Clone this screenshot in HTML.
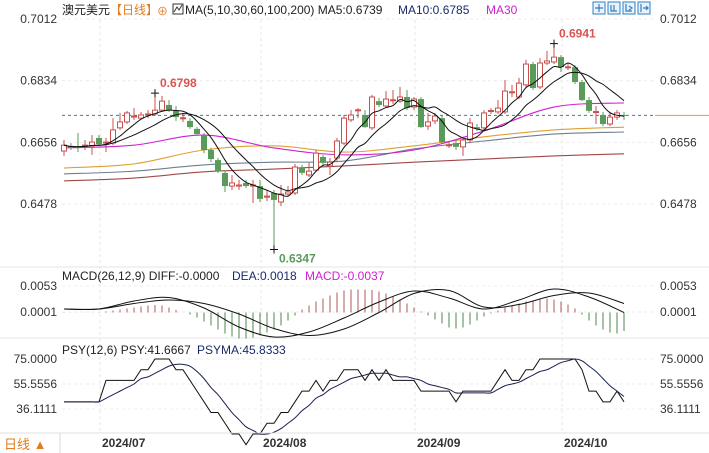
<!DOCTYPE html>
<html><head><meta charset="utf-8">
<style>
html,body{margin:0;padding:0;background:#fff;}
body{width:709px;height:453px;overflow:hidden;position:relative;font-family:"Liberation Sans","Noto Sans CJK SC",sans-serif;}
svg{position:absolute;left:0;top:0;}
</style></head>
<body>
<svg id="chart" width="709" height="453" viewBox="0 0 709 453" xmlns="http://www.w3.org/2000/svg" font-family="Liberation Sans, Noto Sans CJK SC, sans-serif">
  <g font-size="12">
    <text x="62" y="14" fill="#222">澳元美元</text>
    <text x="110" y="14" fill="#e07b20">【日线】</text>
    <text x="157" y="15" fill="#e07b20" font-size="11">⊕</text>
    <rect x="173" y="4" width="10" height="10" fill="none" stroke="#333"/>
    <path d="M174 12 L177 7 L179 10 L182 5" stroke="#333" fill="none"/>
    <text x="185" y="14" fill="#222">MA(5,10,30,60,100,200) MA5:0.6739</text>
    <text x="398" y="14" fill="#1a2a6c">MA10:0.6785</text>
    <text x="486" y="14" fill="#d020d0">MA30</text>
  </g>
  <g stroke="#2f7fc0" fill="#eaf3fb">
    <rect x="593" y="2" width="12" height="12"/>
    <rect x="608" y="2" width="12" height="12"/>
    <rect x="623" y="2" width="12" height="12"/>
    <rect x="638" y="2" width="12" height="12"/>
    <path d="M599 4 V12 M595 8 H603 M611 5 V11 H617 M614 5 V11 M626 4 V11 H632 M629 6 L632 8 L629 10 M641 4 V12 M643 8 H648 M646 6 L648 8 L646 10" fill="none" stroke-width="1.2"/>
  </g>
  <g id="grid"></g>
  <g id="axes" font-size="12" fill="#333"></g>
  <g id="mainPlot"></g>
  <g id="macdPlot"></g>
  <g id="psyPlot"></g>
  <g font-size="12">
    <text x="62" y="280" fill="#222">MACD(26,12,9) DIFF:-0.0000</text>
    <text x="232" y="280" fill="#1a2a6c">DEA:0.0018</text>
    <text x="305" y="280" fill="#d020d0">MACD:-0.0037</text>
    <text x="62" y="354" fill="#222">PSY(12,6) PSY:41.6667</text>
    <text x="197" y="354" fill="#1a2a6c">PSYMA:45.8333</text>
  </g>
  <g>
    <line x1="0" y1="433" x2="709" y2="433" stroke="#e2e2e2"/>
    <line x1="60" y1="433" x2="60" y2="453" stroke="#d8d8d8"/>
    <text x="4" y="449" fill="#e07b20" font-size="13">日线 ▲</text>
  </g>
</svg>
<script>
// ---- data ----
const opens  = [0.6631,0.6646,0.6643,0.6646,0.6646,0.6669,0.6654,0.6654,0.6698,0.6715,0.6729,0.6726,0.6735,0.6738,0.6749,0.6764,0.6747,0.6726,0.6718,0.6695,0.6677,0.6634,0.6605,0.6568,0.6530,0.6530,0.6539,0.6530,0.6530,0.6498,0.6510,0.6484,0.6507,0.6510,0.6582,0.6562,0.6576,0.6614,0.6588,0.6611,0.6654,0.6721,0.6749,0.6735,0.6698,0.6775,0.6761,0.6778,0.6775,0.6787,0.6758,0.6781,0.6703,0.6718,0.6726,0.6648,0.6654,0.6643,0.6663,0.6700,0.6698,0.6747,0.6744,0.6744,0.6801,0.6787,0.6822,0.6882,0.6816,0.6885,0.6888,0.6902,0.6873,0.6873,0.6830,0.6778,0.6744,0.6735,0.6709,0.6729,0.6735];
const closes = [0.6648,0.6640,0.6642,0.6648,0.6657,0.6651,0.6657,0.6692,0.6715,0.6741,0.6732,0.6735,0.6738,0.6749,0.6775,0.6749,0.6729,0.6727,0.6700,0.6680,0.6634,0.6608,0.6573,0.6530,0.6539,0.6533,0.6530,0.6533,0.6493,0.6501,0.6490,0.6507,0.6513,0.6585,0.6568,0.6573,0.6625,0.6597,0.6599,0.6660,0.6726,0.6735,0.6750,0.6700,0.6787,0.6764,0.6781,0.6779,0.6787,0.6755,0.6781,0.6700,0.6715,0.6732,0.6657,0.6649,0.6643,0.6663,0.6712,0.6695,0.6741,0.6748,0.6755,0.6804,0.6802,0.6827,0.6882,0.6813,0.6885,0.6891,0.6902,0.6873,0.6874,0.6830,0.6778,0.6747,0.6745,0.6709,0.6729,0.6741,0.6734];
const highs  = [0.6663,0.6654,0.6683,0.6663,0.6677,0.6677,0.6669,0.6726,0.6741,0.6747,0.6755,0.6744,0.6749,0.6798,0.6790,0.6778,0.6761,0.6741,0.6726,0.6700,0.6683,0.6640,0.6611,0.6576,0.6562,0.6548,0.6548,0.6548,0.6548,0.6519,0.6519,0.6533,0.6530,0.6594,0.6591,0.6597,0.6634,0.6620,0.6611,0.6669,0.6735,0.6749,0.6755,0.6749,0.6793,0.6784,0.6804,0.6807,0.6816,0.6807,0.6787,0.6787,0.6741,0.6741,0.6732,0.6660,0.6663,0.6672,0.6726,0.6709,0.6749,0.6755,0.6778,0.6836,0.6822,0.6842,0.6894,0.6888,0.6899,0.6920,0.6941,0.6908,0.6885,0.6879,0.6836,0.6787,0.6761,0.6744,0.6744,0.6749,0.6744];
const lows   = [0.6617,0.6634,0.6628,0.6634,0.6620,0.6646,0.6628,0.6648,0.6692,0.6709,0.6721,0.6721,0.6726,0.6732,0.6744,0.6744,0.6718,0.6715,0.6695,0.6675,0.6625,0.6599,0.6568,0.6513,0.6519,0.6519,0.6524,0.6481,0.6484,0.6487,0.6347,0.6472,0.6501,0.6504,0.6562,0.6556,0.6570,0.6591,0.6562,0.6599,0.6648,0.6715,0.6726,0.6698,0.6692,0.6758,0.6755,0.6767,0.6770,0.6749,0.6749,0.6698,0.6692,0.6709,0.6654,0.6640,0.6634,0.6617,0.6654,0.6689,0.6692,0.6738,0.6738,0.6738,0.6787,0.6781,0.6813,0.6807,0.6810,0.6879,0.6882,0.6859,0.6865,0.6824,0.6775,0.6741,0.6709,0.6703,0.6703,0.6721,0.6721];
// long moving averages sampled every 10 bars
const maIdx  = [0,10,20,30,40,50,60,70,80];
const ma30   = [0.6640,0.6648,0.6677,0.6640,0.6620,0.6634,0.6689,0.6758,0.6770];
const ma60   = [0.6582,0.6594,0.6634,0.6646,0.6628,0.6646,0.6672,0.6692,0.6700];
const ma100  = [0.6565,0.6573,0.6591,0.6599,0.6602,0.6637,0.6660,0.6680,0.6686];
const ma200  = [0.6545,0.6553,0.6571,0.6579,0.6588,0.6599,0.6608,0.6617,0.6623];
// MACD (units of 0.0001)
const macdIdx = [0,5,10,15,20,25,30,35,40,45,50,55,60,65,70,75,80];
const diffVals = [7,7,23,30,9,-29,-49,-39,-11,21,43,29,7,25,47,31,0];
const deaVals  = [7,7,18,25,18,-3,-32,-46,-33,0,38,44,11,16,34,39,18];
const histVals = [0.5,0.3,0.2,0.2,0.3,0.5,2,4,6,8,10,12,14,15,14,10,5,0,-4,-10,-18,-26,-34,-42,-48,-52,-52,-50,-46,-40,-34,-26,-16,-6,6,14,22,28,34,40,44,46,46,46,45,42,38,32,26,18,10,2,-6,-14,-22,-30,-32,-30,-24,-16,-8,-2,4,10,14,18,22,24,26,28,26,22,16,8,-4,-16,-26,-34,-40,-42,-37];
// PSY
const psyVals = [41.67,41.67,41.67,41.67,41.67,41.67,58.33,58.33,58.33,58.33,58.33,66.67,66.67,75,75,75,66.67,66.67,58.33,50,41.67,33.33,33.33,25,16.67,16.67,8.33,16.67,16.67,25,25,33.33,33.33,41.67,50,50,58.33,50,58.33,58.33,66.67,66.67,66.67,58.33,66.67,58.33,66.67,58.33,58.33,58.33,58.33,50,50,50,50,50,41.67,50,50,50,50,50,58.33,66.67,58.33,58.33,66.67,66.67,75,75,75,75,75,75,66.67,50,50,41.67,41.67,50,41.67];
const priceTicks = ["0.7012","0.6834","0.6656","0.6478"];
const macdTicks = ["0.0053","0.0001"];
const psyTicks = ["75.0000","55.5556","36.1111"];
const dateLabels = ["2024/07","2024/08","2024/09","2024/10"];
const dateIdx = [5,28,50,71];

// ---- scales ----
const X = i => 64 + 7*i;
const YP = p => 19 + (0.7012 - p) * 3466;
const YM = v => 312.5 - v * 0.5;
const YS = v => 359 + (75 - v) * 1.285;
const NS = "http://www.w3.org/2000/svg";
function mk(tag, attrs, parent){const e=document.createElementNS(NS,tag);for(const k in attrs)e.setAttribute(k,attrs[k]);parent.appendChild(e);return e;}
function smooth(pts){let d="M"+pts[0][0]+" "+pts[0][1];for(let i=0;i<pts.length-1;i++){const p0=pts[Math.max(0,i-1)],p1=pts[i],p2=pts[i+1],p3=pts[Math.min(pts.length-1,i+2)];d+=" C"+(p1[0]+(p2[0]-p0[0])/6)+" "+(p1[1]+(p2[1]-p0[1])/6)+" "+(p2[0]-(p3[0]-p1[0])/6)+" "+(p2[1]-(p3[1]-p1[1])/6)+" "+p2[0]+" "+p2[1];}return d;}

const grid=document.getElementById('grid'), axes=document.getElementById('axes');
const main=document.getElementById('mainPlot'), macdG=document.getElementById('macdPlot'), psyG=document.getElementById('psyPlot');

[267,338].forEach(y=>{const l=mk('line',{x1:0,y1:y,x2:709,y2:y,stroke:'#e4e4e4'},grid);

});
dateIdx.forEach(i=>{const l=mk('line',{x1:X(i)+1,y1:20,x2:X(i)+1,y2:433,stroke:'#e6e6e6','stroke-dasharray':'3,3'},grid);

});
priceTicks.forEach(t=>{const y=YP(+t);
mk('line',{x1:62,y1:y,x2:655,y2:y,stroke:'#ececec','stroke-dasharray':'3,3'},grid);
const a=mk('text',{x:57,y:y+4,'text-anchor':'end'},axes);a.textContent=t;


const b=mk('text',{x:660,y:y+4},axes);b.textContent=t;

});
macdTicks.forEach(t=>{const y=YM(+t*10000);
mk('line',{x1:62,y1:y,x2:655,y2:y,stroke:'#ececec','stroke-dasharray':'3,3'},grid);
const a=mk('text',{x:57,y:y+4,'text-anchor':'end'},axes);a.textContent=t;


const b=mk('text',{x:660,y:y+4},axes);b.textContent=t;

});
psyTicks.forEach(t=>{const y=YS(+t);
mk('line',{x1:62,y1:y,x2:655,y2:y,stroke:'#ececec','stroke-dasharray':'3,3'},grid);
const a=mk('text',{x:57,y:y+4,'text-anchor':'end'},axes);a.textContent=t;


const b=mk('text',{x:660,y:y+4},axes);b.textContent=t;

});
dateLabels.forEach((t,k)=>{const a=mk('text',{x:X(dateIdx[k])+3,y:447,'font-weight':'bold',fill:'#333'},axes);a.textContent=t;

});

const last=closes[closes.length-1];
const cl=mk('line',{x1:62,y1:YP(last),x2:655,y2:YP(last),stroke:'#3a7fa8','stroke-dasharray':'3,3'},main);


const ol=mk('line',{x1:655,y1:YP(last),x2:709,y2:YP(last),stroke:'#e0a030'},main);



[[ma200,'#a04848','ma200-line'],[ma100,'#6f7f90','ma100-line'],[ma60,'#e0a030','ma60-line'],[ma30,'#d020d0','ma30-line']].forEach(([arr,c,n])=>{
const p=mk('path',{d:smooth(arr.map((v,k)=>[X(maIdx[k]),YP(v)])),fill:'none',stroke:c,'stroke-width':1.1},main);

});

closes.forEach((c,i)=>{const o=opens[i],x=X(i),up=c>=o;
const g=mk('g',{},main);


const col=up?'#c9504d':'#5a9a5a';
const top=YP(Math.max(o,c)),bot=YP(Math.min(o,c));
mk('line',{x1:x,y1:YP(highs[i]),x2:x,y2:top,stroke:col},g);
mk('line',{x1:x,y1:bot,x2:x,y2:YP(lows[i]),stroke:col},g);
const h=Math.max(1,bot-top);
if(up) mk('rect',{x:x-2.5,y:top,width:5,height:h,fill:'#fff',stroke:col},g);
else mk('rect',{x:x-3,y:top,width:6,height:h,fill:col},g);});

function ma(n){return closes.map((_,i)=>{const s=closes.slice(Math.max(0,i-n+1),i+1);return s.reduce((a,b)=>a+b,0)/s.length;});}
[[ma(5),'ma5-line'],[ma(10),'ma10-line']].forEach(([arr,n])=>{
const p=mk('path',{d:smooth(arr.map((v,i)=>[X(i),YP(v)])),fill:'none',stroke:'#111','stroke-width':1},main);

});

function annot(i,val,txt,color,above){const x=X(i),y=YP(val);
mk('path',{d:`M${x-4} ${y} H${x+4} M${x} ${y-4} V${y+4}`,stroke:'#111'},main);
const t=mk('text',{x:x+5,y:above?y-6:y+13,fill:color,'font-size':12,'font-weight':'bold'},main);t.textContent=txt;

}
const hi1=highs.slice(0,30).indexOf(Math.max(...highs.slice(0,30)));
annot(hi1,highs[hi1],highs[hi1].toFixed(4),'#d9534f',true);
const hi2=highs.indexOf(Math.max(...highs));
annot(hi2,highs[hi2],highs[hi2].toFixed(4),'#d9534f',true);
const lo=lows.indexOf(Math.min(...lows));
annot(lo,lows[lo],lows[lo].toFixed(4),'#5a9a5a',false);

histVals.forEach((v,i)=>{const l=mk('line',{x1:X(i),y1:YM(0),x2:X(i),y2:YM(v),stroke:v>=0?'#a84848':'#3a7a3a','stroke-width':0.9},macdG);

});
[[diffVals,'diff-line'],[deaVals,'dea-line']].forEach(([arr,n])=>{
const p=mk('path',{d:smooth(arr.map((v,k)=>[X(macdIdx[k]),YM(v)])),fill:'none',stroke:'#111','stroke-width':1},macdG);

});

const psyPath=psyVals.map((v,i)=>(i?'L':'M')+X(i)+' '+YS(v)).join(' ');
const pp=mk('path',{d:psyPath,fill:'none',stroke:'#111','stroke-width':1},psyG);


const psyma=psyVals.map((_,i)=>{const s=psyVals.slice(Math.max(0,i-5),i+1);return s.reduce((a,b)=>a+b,0)/s.length;});
const pm=mk('path',{d:smooth(psyma.map((v,i)=>[X(i),YS(v)])),fill:'none',stroke:'#1a2050','stroke-width':1},psyG);


</script>
</body></html>
